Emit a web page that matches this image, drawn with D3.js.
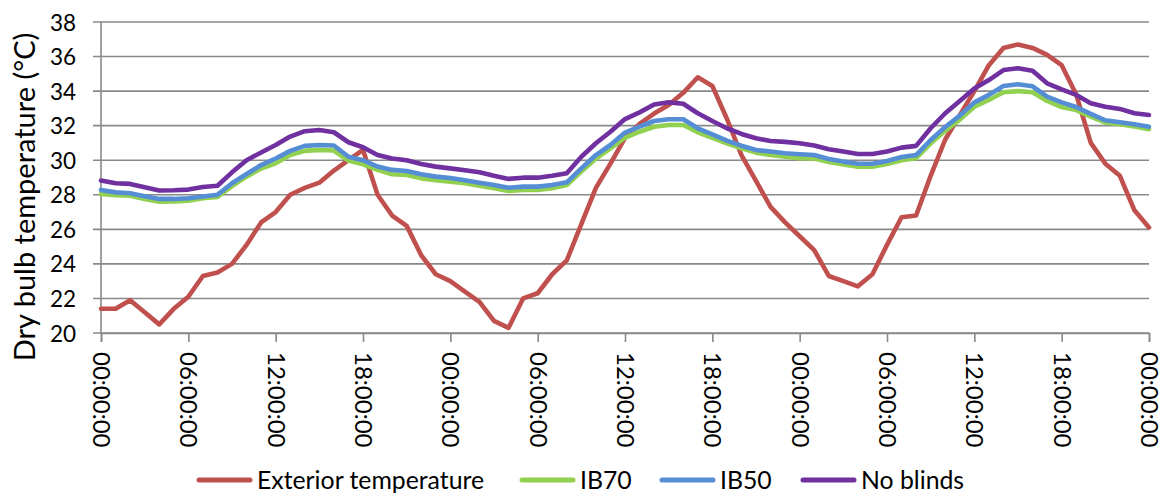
<!DOCTYPE html>
<html>
<head>
<meta charset="utf-8">
<script src="https://cdn.jsdelivr.net/npm/d3@7"></script>
<style>
  html, body { margin: 0; padding: 0; background: #ffffff; }
  svg { display: block; font-family: Lato, "Open Sans", sans-serif; }
</style>
</head>
<body>
<svg id="chart" width="1167" height="494"></svg>
<script>
// ---- data ----
const hours = d3.range(0, 73); // hourly samples over three days
const tickLabels = ["00:00:00","06:00:00","12:00:00","18:00:00","00:00:00","06:00:00","12:00:00","18:00:00","00:00:00","06:00:00","12:00:00","18:00:00","00:00:00"];
const yTicks = [20,22,24,26,28,30,32,34,36,38];
const seriesNames = ["Exterior temperature","IB70","IB50","No blinds"];
const seriesColors = ["#C0504D","#92D050","#558ED5","#7030A0"];

const exterior = [21.4,21.4,21.9,21.2,20.5,21.4,22.1,23.3,23.5,24.0,25.1,26.4,27.0,28.0,28.4,28.7,29.4,30.0,30.6,28.0,26.8,26.2,24.5,23.4,23.0,22.4,21.8,20.7,20.3,22.0,22.3,23.4,24.2,26.3,28.4,29.8,31.3,32.1,32.7,33.2,33.9,34.8,34.3,32.4,30.3,28.8,27.3,26.4,25.6,24.8,23.3,23.0,22.7,23.4,25.1,26.7,26.8,29.1,31.2,32.6,34.0,35.5,36.5,36.7,36.5,36.1,35.5,33.8,31.0,29.8,29.1,27.1,26.1];
const ib70 = [28.05,27.97,27.95,27.76,27.6,27.62,27.66,27.8,27.88,28.5,29.05,29.52,29.82,30.3,30.54,30.6,30.56,29.98,29.76,29.44,29.19,29.15,28.95,28.84,28.76,28.67,28.53,28.38,28.22,28.28,28.28,28.38,28.57,29.34,30.1,30.69,31.3,31.65,31.94,32.04,32.04,31.62,31.3,30.98,30.69,30.44,30.3,30.2,30.12,30.1,29.9,29.75,29.62,29.62,29.78,30.0,30.12,30.98,31.7,32.35,33.1,33.49,33.93,34.0,33.93,33.43,33.08,32.9,32.52,32.18,32.08,31.95,31.8];
const ib50 = [28.28,28.14,28.09,27.92,27.76,27.76,27.8,27.9,28.0,28.67,29.2,29.72,30.1,30.54,30.83,30.88,30.85,30.2,30.0,29.63,29.44,29.38,29.19,29.05,28.97,28.84,28.7,28.57,28.41,28.47,28.47,28.57,28.72,29.53,30.3,30.88,31.6,31.94,32.27,32.37,32.37,31.85,31.5,31.13,30.84,30.59,30.5,30.4,30.35,30.3,30.07,29.92,29.8,29.8,29.96,30.19,30.3,31.17,31.92,32.58,33.35,33.78,34.3,34.4,34.28,33.68,33.35,33.08,32.68,32.31,32.2,32.08,31.94];
const noBlinds = [28.82,28.67,28.63,28.43,28.25,28.26,28.3,28.45,28.52,29.3,30.0,30.45,30.88,31.37,31.68,31.75,31.62,31.04,30.75,30.3,30.1,30.0,29.78,29.63,29.53,29.42,29.3,29.1,28.92,28.99,28.99,29.1,29.24,30.2,30.98,31.65,32.38,32.77,33.22,33.35,33.27,32.72,32.27,31.85,31.52,31.27,31.11,31.06,30.98,30.85,30.63,30.5,30.36,30.36,30.5,30.73,30.83,31.85,32.72,33.43,34.15,34.64,35.22,35.32,35.18,34.45,34.1,33.78,33.3,33.1,32.97,32.72,32.62];

const seriesValues = [exterior, ib70, ib50, noBlinds];

// ---- layout ----
const svg = d3.select("#chart");
const plot = { left: 101, right: 1149, top: 22, bottom: 333 };
const gridColor = "#898989";

const x = d3.scaleLinear().domain([0, 72]).range([plot.left, plot.right]);
const y = d3.scaleLinear().domain([20, 38]).range([plot.bottom, plot.top]);

// horizontal gridlines + y ticks
svg.append("g")
  .selectAll("line")
  .data(yTicks)
  .join("line")
  .attr("x1", plot.left - 8)
  .attr("x2", plot.right)
  .attr("y1", d => y(d))
  .attr("y2", d => y(d))
  .attr("stroke", gridColor)
  .attr("stroke-width", 1.6);

// y axis labels
const yAxis = d3.axisLeft(y).tickValues(yTicks).tickSize(0).tickPadding(0).tickFormat(d3.format("d"));
const gy = svg.append("g").attr("transform", `translate(${plot.left - 25},0)`).call(yAxis);
gy.select(".domain").remove();
gy.selectAll("text")
  .attr("font-family", "Lato, sans-serif")
  .attr("font-size", 22.5)
  .attr("fill", "#000")
  .attr("dy", "0.36em");

// y axis line
svg.append("line")
  .attr("x1", plot.left).attr("x2", plot.left)
  .attr("y1", plot.top).attr("y2", plot.bottom)
  .attr("stroke", gridColor).attr("stroke-width", 1.6);

// x axis
const xAxis = d3.axisBottom(x)
  .tickValues(d3.range(0, 73, 6))
  .tickSize(9)
  .tickFormat((d, i) => tickLabels[i]);
const gx = svg.append("g").attr("transform", `translate(0,${plot.bottom})`).call(xAxis);
gx.select(".domain").attr("stroke", gridColor).attr("stroke-width", 1.6);
gx.selectAll(".tick line").attr("stroke", gridColor).attr("stroke-width", 1.6);
gx.selectAll("text")
  .attr("font-family", "Lato, sans-serif")
  .attr("font-size", 24)
  .attr("fill", "#000")
  .attr("text-anchor", "start")
  .attr("transform", "rotate(90)")
  .attr("x", 19)
  .attr("y", 0)
  .attr("dy", "0.36em");

// series lines
const line = d3.line()
  .x((d, i) => x(hours[i]))
  .y(d => y(d));

svg.append("g")
  .selectAll("path")
  .data(seriesValues)
  .join("path")
  .attr("d", d => line(d))
  .attr("fill", "none")
  .attr("stroke", (d, i) => seriesColors[i])
  .attr("stroke-width", 4.6)
  .attr("stroke-linejoin", "round")
  .attr("stroke-linecap", "round");

// y axis title
svg.append("text")
  .attr("transform", "translate(35,197) rotate(-90)")
  .attr("text-anchor", "middle")
  .attr("font-family", "Lato, sans-serif")
  .attr("font-size", 29)
  .attr("fill", "#000")
  .text("Dry bulb temperature (°C)");

// legend
const legendX = [199, 522, 662, 803];
const legend = svg.append("g");
seriesNames.forEach((name, i) => {
  legend.append("line")
    .attr("x1", legendX[i]).attr("x2", legendX[i] + 51)
    .attr("y1", 480).attr("y2", 480)
    .attr("stroke", seriesColors[i])
    .attr("stroke-width", 5)
    .attr("stroke-linecap", "round");
  legend.append("text")
    .attr("x", legendX[i] + 58)
    .attr("y", 480)
    .attr("dy", "0.36em")
    .attr("font-family", "Lato, sans-serif")
    .attr("font-size", 24.8)
    .attr("fill", "#000")
    .text(name);
});
</script>
</body>
</html>
